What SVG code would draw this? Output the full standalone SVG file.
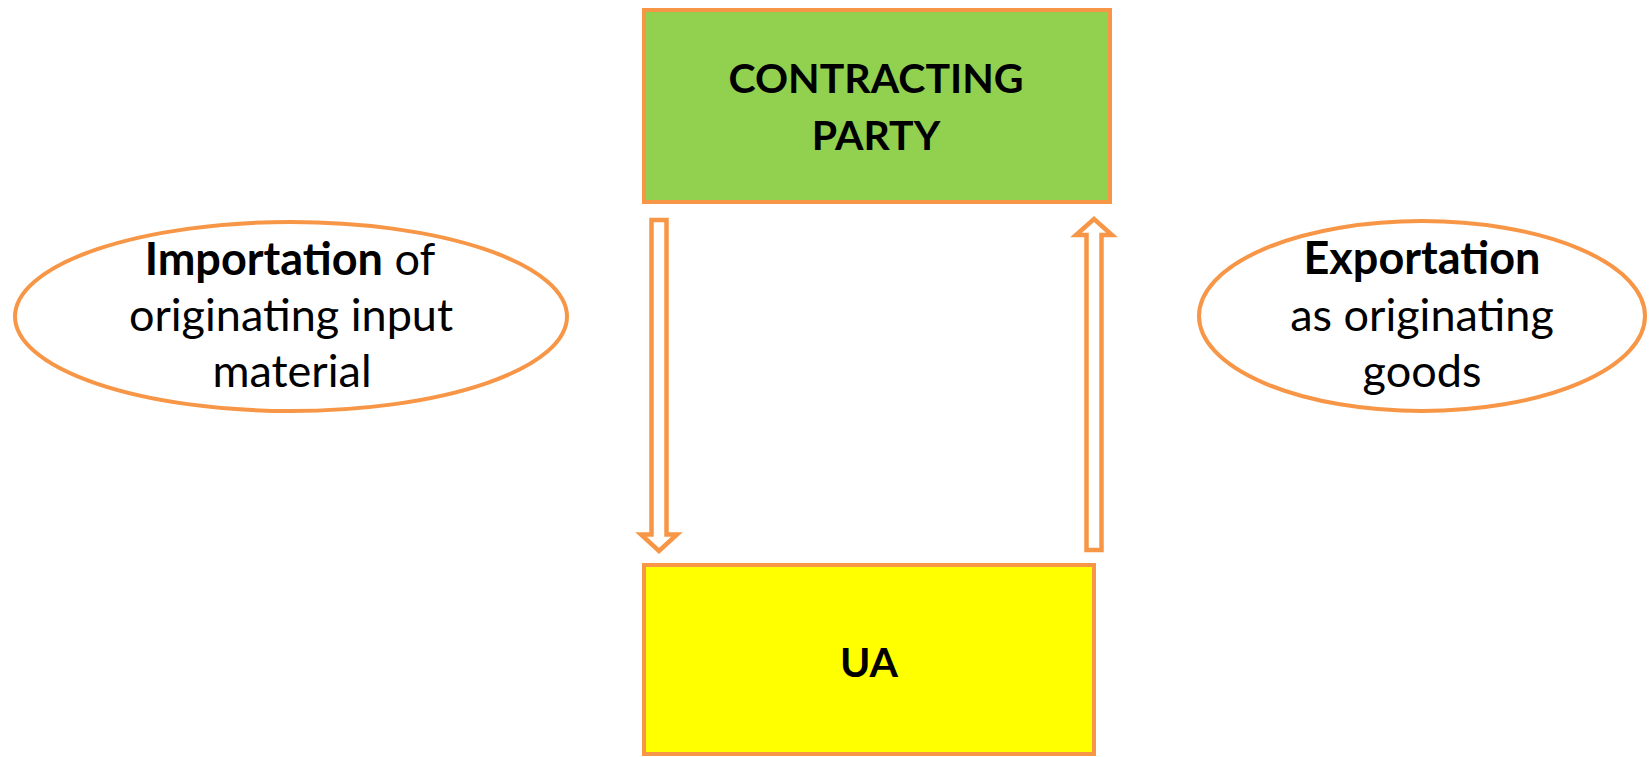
<svg xmlns="http://www.w3.org/2000/svg" width="1649" height="757" viewBox="0 0 1649 757">
<style>
.box{stroke:#F79646;stroke-width:4;}
.oval{fill:#FFFFFF;stroke:#F79646;stroke-width:4;}
.arrow{fill:#FFFFFF;stroke:#F79646;stroke-width:4.5;stroke-linejoin:miter;}
text{font-family:Lato,"Liberation Sans",sans-serif;font-size:45px;fill:#000000;text-anchor:middle;}
.b{font-weight:bold;}
.cap{font-size:41px;font-weight:bold;}
</style>
<rect width="1649" height="757" fill="#FFFFFF"/>
<g id="connectors">
<path class="arrow" d="M651.5,220 H666.5 V534.5 H677 L659,551 L641,534.5 H651.5 Z"/>
<path class="arrow" d="M1086.5,550 H1101.5 V235 H1112 L1094,219 L1076,235 H1086.5 Z"/>
</g>
<g id="contracting-party">
<rect class="box" x="644" y="10" width="466" height="192" fill="#92D050"/>
<text class="cap" x="876" y="93">CONTRACTING</text>
<text class="cap" x="876" y="150">PARTY</text>
</g>
<g id="ua">
<rect class="box" x="644" y="565" width="450" height="189" fill="#FFFF00"/>
<text class="cap" x="869" y="677">UA</text>
</g>
<g id="importation">
<ellipse class="oval" cx="291" cy="316.5" rx="276" ry="94.5"/>
<text x="290" y="275"><tspan class="b">Importation</tspan> of</text>
<text x="291" y="331">originating input</text>
<text x="292" y="387">material</text>
</g>
<g id="exportation">
<ellipse class="oval" cx="1422" cy="316" rx="223" ry="95"/>
<text class="b" x="1422" y="274">Exportation</text>
<text x="1422" y="331">as originating</text>
<text x="1422" y="387">goods</text>
</g>
</svg>
